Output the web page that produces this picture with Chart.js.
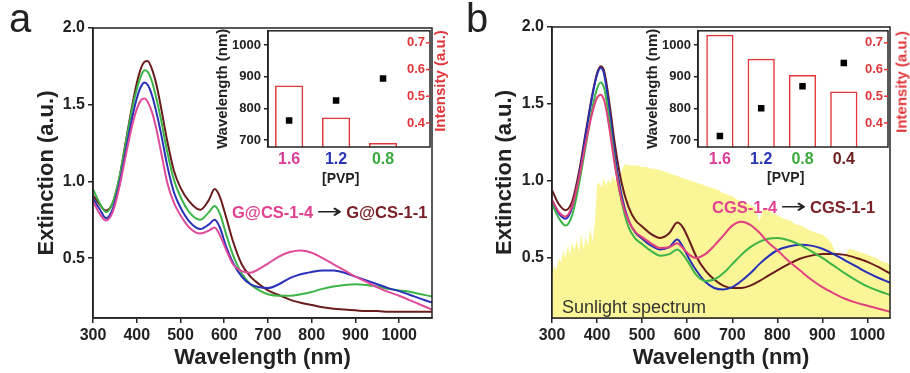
<!DOCTYPE html>
<html>
<head>
<meta charset="utf-8">
<script src="https://cdn.jsdelivr.net/npm/chart.js@4.4.1/dist/chart.umd.min.js"></script>
<style>
  body { margin: 0; background: #fff; }
  #fig { position: relative; width: 910px; height: 373px; overflow: hidden; font-family: 'Liberation Sans', Arial, sans-serif; }
  #fig canvas { position: absolute; }
  .txt { position: absolute; white-space: nowrap; line-height: 1; }
  .rot { position: absolute; white-space: nowrap; line-height: 1; transform: translate(-50%, -50%) rotate(-90deg); }
  .arr { display: inline-block; width: 27px; margin: 0 3px; text-align: center; font-family: 'DejaVu Sans', sans-serif; font-weight: normal; font-size: 20px; color: #222; }
  .arr span { display: inline-block; transform: scaleX(1.55); }
</style>
</head>
<body>
<div id="fig">
  <canvas id="mainA" width="455" height="373" style="left:0;top:0"></canvas>
  <canvas id="mainB" width="455" height="373" style="left:455px;top:0"></canvas>
  <canvas id="insetA" width="240" height="175" style="left:205px;top:20px"></canvas>
  <canvas id="insetB" width="275" height="175" style="left:635px;top:20px"></canvas>

  <div class="txt" style="left:9px;top:-2px;font-size:40px;color:#222">a</div>
  <div class="txt" style="left:466px;top:-2px;font-size:40px;color:#222">b</div>

  <div class="txt" style="left:232px;top:201px;font-size:16.5px;font-weight:bold"><span style="color:#e0428f">G@CS-1-4</span><span class="arr"><span>&rarr;</span></span><span style="color:#7a2228">G@CS-1-1</span></div>
  <div class="txt" style="left:712px;top:196px;font-size:16.5px;font-weight:bold"><span style="color:#e0428f">CGS-1-4</span><span class="arr"><span>&rarr;</span></span><span style="color:#7a2228">CGS-1-1</span></div>
  <div class="txt" style="left:562px;top:298px;font-size:18px;color:#333">Sunlight spectrum</div>

  <div class="txt" style="left:322px;top:171px;font-size:14px;font-weight:bold;color:#222">[PVP]</div>
  <div class="txt" style="left:767px;top:170px;font-size:14px;font-weight:bold;color:#222">[PVP]</div>
  <div class="rot" style="left:439px;top:81px;font-size:15px;font-weight:bold;color:#e0363a">Intensity (a.u.)</div>
  <div class="rot" style="left:901px;top:82px;font-size:15px;font-weight:bold;color:#e0363a">Intensity (a.u.)</div>
</div>

<script>
// ---- panel a: G@CS extinction spectra ----
const waveA = [300,315,330,345,360,375,390,400,410,418,425,435,445,455,470,485,500,520,545,565,578,590,605,620,640,660,680,700,725,750,775,800,825,850,875,900,925,950,975,1000,1025,1050,1075];
const pinkA  = [0.87,0.79,0.745,0.80,0.96,1.17,1.37,1.47,1.53,1.54,1.52,1.45,1.34,1.20,0.99,0.86,0.78,0.70,0.66,0.68,0.70,0.65,0.55,0.46,0.415,0.405,0.43,0.465,0.51,0.54,0.55,0.535,0.50,0.46,0.42,0.38,0.345,0.31,0.28,0.255,0.225,0.195,0.165];
const blueA  = [0.89,0.82,0.76,0.82,0.98,1.20,1.42,1.54,1.62,1.645,1.63,1.56,1.45,1.32,1.10,0.93,0.83,0.74,0.69,0.72,0.75,0.70,0.57,0.47,0.38,0.33,0.31,0.305,0.33,0.37,0.395,0.41,0.42,0.42,0.405,0.38,0.355,0.33,0.305,0.285,0.26,0.235,0.21];
const greenA = [0.95,0.86,0.80,0.86,1.02,1.25,1.48,1.60,1.69,1.725,1.715,1.65,1.54,1.41,1.19,1.01,0.90,0.80,0.75,0.80,0.84,0.79,0.65,0.52,0.40,0.33,0.29,0.265,0.255,0.255,0.265,0.28,0.30,0.315,0.325,0.33,0.325,0.315,0.30,0.29,0.28,0.265,0.25];
const darkA  = [0.91,0.85,0.81,0.86,1.02,1.26,1.50,1.64,1.74,1.78,1.785,1.73,1.63,1.49,1.26,1.07,0.96,0.87,0.815,0.88,0.95,0.90,0.76,0.61,0.46,0.38,0.33,0.29,0.26,0.23,0.21,0.195,0.18,0.17,0.165,0.16,0.155,0.155,0.15,0.15,0.15,0.15,0.15];

// ---- panel b: CGS extinction spectra ----
const waveB = [300,315,330,345,360,375,390,400,408,415,420,430,440,455,470,485,500,520,540,560,578,590,605,620,640,660,680,700,720,740,760,780,800,825,850,875,900,925,950,975,1000,1025,1050];
const pinkB  = [0.88,0.80,0.77,0.84,1.02,1.25,1.45,1.54,1.56,1.53,1.47,1.29,1.09,0.87,0.74,0.67,0.635,0.595,0.565,0.57,0.595,0.565,0.52,0.50,0.525,0.58,0.645,0.71,0.735,0.715,0.665,0.60,0.55,0.48,0.42,0.36,0.31,0.27,0.235,0.21,0.19,0.17,0.15];
const blueB  = [0.87,0.79,0.755,0.83,1.03,1.30,1.56,1.69,1.735,1.70,1.62,1.40,1.16,0.90,0.745,0.665,0.625,0.58,0.555,0.57,0.62,0.575,0.49,0.42,0.345,0.305,0.295,0.31,0.35,0.40,0.46,0.51,0.55,0.575,0.585,0.58,0.56,0.525,0.485,0.445,0.405,0.37,0.34];
const greenB = [0.85,0.76,0.71,0.78,0.98,1.23,1.48,1.60,1.64,1.61,1.54,1.33,1.11,0.86,0.70,0.625,0.59,0.545,0.515,0.525,0.555,0.525,0.46,0.39,0.35,0.36,0.40,0.46,0.52,0.57,0.605,0.625,0.63,0.615,0.585,0.545,0.50,0.45,0.40,0.355,0.315,0.285,0.26];
const darkB  = [0.94,0.85,0.81,0.87,1.06,1.32,1.57,1.70,1.745,1.72,1.65,1.45,1.23,0.98,0.83,0.745,0.705,0.655,0.63,0.66,0.73,0.70,0.61,0.51,0.42,0.36,0.32,0.305,0.305,0.32,0.35,0.385,0.42,0.46,0.495,0.515,0.525,0.525,0.52,0.50,0.475,0.44,0.40];

// sunlight spectrum (arbitrary scale, drawn on the extinction axis)
const sunNm = [300,305,310,315,320,325,330,335,340,345,350,355,360,365,370,375,380,385,390,395,400,405,410,415,420,425,430,435,440,445,450,455,460,465,470,
  480,490,500,510,520,530,540,550,560,570,580,590,600,610,620,630,640,650,660,670,680,690,700,710,720,730,740,750,760,770,780,790,800,810,820,830,840,850,860,870,880,890,900,910,920,930,940,950,960,970,980,990,1000,1010,1020,1030,1040,1050];
const sunVal = [0.40,0.45,0.42,0.50,0.47,0.55,0.50,0.58,0.52,0.60,0.55,0.62,0.54,0.66,0.56,0.64,0.58,0.70,0.60,0.72,0.97,0.99,0.96,1.02,0.97,1.01,0.98,1.04,0.99,1.05,1.01,1.07,1.10,1.11,1.10,
  1.10,1.10,1.09,1.09,1.08,1.08,1.07,1.06,1.05,1.04,1.03,1.02,1.01,1.00,0.99,0.98,0.97,0.96,0.95,0.94,0.92,0.91,0.90,0.88,0.87,0.86,0.84,0.83,0.74,0.82,0.81,0.79,0.78,0.76,0.75,0.74,0.72,0.71,0.70,0.68,0.67,0.66,0.65,0.63,0.60,0.53,0.48,0.52,0.56,0.55,0.54,0.53,0.52,0.51,0.50,0.48,0.47,0.46];

// insets: SPR peak wavelength (points) and intensity (bars) vs [PVP]
const pvpA = ['1.6', '1.2', '0.8'];
const peakWlA = [762, 825, 894];
const peakIntA = [0.54, 0.42, 0.325];
const pvpB = ['1.6', '1.2', '0.8', '0.4'];
const peakWlB = [713, 800, 870, 943];
const peakIntB = [0.73, 0.64, 0.58, 0.518];

const xTicks = [300, 400, 500, 600, 700, 800, 900, 1000];
const yTicks = [0.5, 1.0, 1.5, 2.0];
const wlTicks = [700, 800, 900, 1000];
const intTicks = [0.4, 0.5, 0.6, 0.7];

const FONT = "'Liberation Sans', Arial, sans-serif";
const INK = '#222';
const RED = '#e0363a';
const pvpColors = ['#d83c96', '#2a34b4', '#3aaa3e', '#6e2020'];

const pts = (xs, ys) => xs.map((x, i) => ({ x, y: ys[i] }));

// box round the plot area, plus optional inward ticks for the right axis
const framePlugin = {
  id: 'frame',
  afterDraw(chart, args, opts) {
    const { ctx, chartArea: a } = chart;
    ctx.save();
    ctx.strokeStyle = INK;
    ctx.lineWidth = 1.5;
    ctx.strokeRect(a.left, a.top, a.right - a.left, a.bottom - a.top);
    if (opts.innerTicks) {
      const s = chart.scales.yR;
      ctx.strokeStyle = RED;
      s.ticks.forEach(t => {
        const y = s.getPixelForValue(t.value);
        ctx.beginPath();
        ctx.moveTo(a.right - 4, y);
        ctx.lineTo(a.right, y);
        ctx.stroke();
      });
    }
    ctx.restore();
  }
};

const curve = (data, color) => ({
  data, borderColor: color, borderWidth: 2, pointRadius: 0,
  cubicInterpolationMode: 'monotone', fill: false, order: 1
});

function mainChart(id, datasets, xMax, pad, yWidth, yTitlePad) {
  return new Chart(document.getElementById(id), {
    type: 'line',
    data: { datasets },
    options: {
      responsive: false, animation: false, devicePixelRatio: 1,
      layout: { padding: pad },
      plugins: { legend: { display: false }, tooltip: { enabled: false } },
      scales: {
        x: {
          type: 'linear', min: 300, max: xMax,
          afterBuildTicks: s => { s.ticks = xTicks.map(v => ({ value: v })); },
          afterFit: s => { s.height = 55; },
          grid: { drawOnChartArea: false, tickLength: 5, color: INK, lineWidth: 1.5 },
          border: { color: INK, width: 1.5 },
          ticks: { color: INK, padding: 3, maxRotation: 0, autoSkip: false, font: { family: FONT, size: 16, weight: 'bold' }, callback: v => String(v) },
          title: { display: true, text: 'Wavelength (nm)', color: INK, font: { family: FONT, size: 22, weight: 'bold' }, padding: { top: 0, bottom: 2 } }
        },
        y: {
          min: 0.11, max: 2.0,
          afterBuildTicks: s => { s.ticks = yTicks.map(v => ({ value: v })); },
          afterFit: s => { s.width = yWidth; },
          grid: { drawOnChartArea: false, tickLength: 5, color: INK, lineWidth: 1.5 },
          border: { color: INK, width: 1.5 },
          ticks: { color: INK, padding: 3, font: { family: FONT, size: 16, weight: 'bold' }, callback: v => v.toFixed(1) },
          title: { display: true, text: 'Extinction (a.u.)', color: INK, font: { family: FONT, size: 22, weight: 'bold' }, padding: { top: yTitlePad, bottom: 0 } }
        }
      }
    },
    plugins: [framePlugin]
  });
}

function insetChart(id, labels, wl, inten, xMin, xMax, barPct, padRight) {
  return new Chart(document.getElementById(id), {
    type: 'bar',
    data: {
      datasets: [
        { type: 'scatter', data: wl.map((v, i) => ({ x: i + 1, y: v })), yAxisID: 'yL',
          pointStyle: 'rect', pointRadius: 4.6, backgroundColor: '#000', borderWidth: 0, order: 1 },
        { type: 'bar', data: inten.map((v, i) => ({ x: i + 1, y: v })), yAxisID: 'yR',
          backgroundColor: 'rgba(255,255,255,0)', borderColor: RED, borderWidth: 1.5,
          barPercentage: barPct, categoryPercentage: 1, order: 2 }
      ]
    },
    options: {
      responsive: false, animation: false, devicePixelRatio: 1,
      layout: { padding: { top: 9, right: padRight, left: 0, bottom: 0 } },
      plugins: { legend: { display: false }, tooltip: { enabled: false }, frame: { innerTicks: true } },
      scales: {
        x: {
          type: 'linear', min: xMin, max: xMax, offset: false,
          afterBuildTicks: s => { s.ticks = labels.map((_, i) => ({ value: i + 1 })); },
          afterFit: s => { s.height = 48; },
          grid: { display: false, drawTicks: false },
          border: { display: false },
          ticks: { padding: 3, autoSkip: false, maxRotation: 0, font: { family: FONT, size: 16, weight: 'bold' },
                   color: c => pvpColors[c.index], callback: (v, i) => labels[i] }
        },
        yL: {
          position: 'left', min: 678, max: 1045,
          afterBuildTicks: s => { s.ticks = wlTicks.map(v => ({ value: v })); },
          afterFit: s => { s.width = 63; },
          grid: { drawOnChartArea: false, tickLength: 4, color: INK, lineWidth: 1.5 },
          border: { color: INK, width: 1.5 },
          ticks: { color: INK, padding: 3, font: { family: FONT, size: 13, weight: 'bold' }, callback: v => String(v) },
          title: { display: true, text: 'Wavelength (nm)', color: INK, font: { family: FONT, size: 15, weight: 'bold' }, padding: { top: 9, bottom: 0 } }
        },
        yR: {
          position: 'right', min: 0.31, max: 0.745,
          afterBuildTicks: s => { s.ticks = intTicks.map(v => ({ value: v })); },
          afterFit: s => { s.width = 0; },
          grid: { display: false, drawTicks: false },
          border: { display: false },
          // mirrored labels sit inside the box, left of the right edge
          ticks: { mirror: true, padding: -5, color: RED, font: { family: FONT, size: 13, weight: 'bold' }, callback: v => v.toFixed(1) }
        }
      }
    },
    plugins: [framePlugin]
  });
}

mainChart('mainA', [
  curve(pts(waveA, pinkA), '#e04a9a'),
  curve(pts(waveA, blueA), '#2830b8'),
  curve(pts(waveA, greenA), '#3cb448'),
  curve(pts(waveA, darkA), '#6a1c1c')
], 1075, { top: 28, right: 23, left: 0, bottom: 0 }, 93, 34);

mainChart('mainB', [
  { data: pts(sunNm, sunVal), borderWidth: 0, pointRadius: 0, tension: 0,
    fill: 'start', backgroundColor: 'rgb(250,246,152)', order: 10 },
  curve(pts(waveB, pinkB), '#e0407f'),
  curve(pts(waveB, greenB), '#3cb448'),
  curve(pts(waveB, blueB), '#2830b8'),
  curve(pts(waveB, darkB), '#6a1c1c')
], 1050, { top: 27, right: 20, left: 0, bottom: 0 }, 97, 37);

insetChart('insetA', pvpA, peakWlA, peakIntA, 0.55, 4.0, 0.6, 15);
insetChart('insetB', pvpB, peakWlB, peakIntB, 0.47, 5.07, 0.66, 22);
</script>
</body>
</html>
